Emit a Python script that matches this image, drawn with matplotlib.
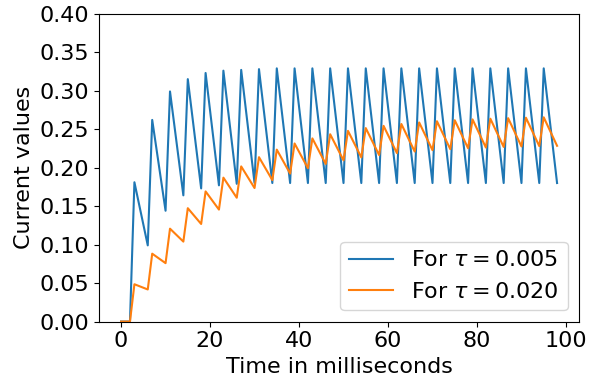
import matplotlib
matplotlib.use("Agg")
import matplotlib.pyplot as plt
import numpy as np

# time points (ms) where the traces change direction
t = [0, 2,
     3, 6, 7, 10, 11, 14, 15, 18, 19, 22, 23, 26, 27, 30,
     31, 34, 35, 38, 39, 42, 43, 46, 47, 50, 51, 54, 55, 58,
     59, 62, 63, 66, 67, 70, 71, 74, 75, 78, 79, 82, 83, 86,
     87, 90, 91, 94, 95, 98]

current_fast = [0, 0,
                0.181, 0.099, 0.262, 0.144, 0.299, 0.164, 0.315, 0.173,
                0.323, 0.177, 0.326, 0.179, 0.327, 0.180, 0.328, 0.180,
                0.329, 0.180, 0.329, 0.180, 0.329, 0.180, 0.329, 0.180,
                0.329, 0.180, 0.329, 0.180, 0.329, 0.180, 0.329, 0.180,
                0.329, 0.180, 0.329, 0.180, 0.329, 0.180, 0.329, 0.180,
                0.329, 0.180, 0.329, 0.180, 0.329, 0.180, 0.329, 0.180]

current_slow = [0, 0,
                0.0485, 0.0417, 0.0882, 0.0759, 0.1207, 0.1039, 0.1473, 0.1268,
                0.1691, 0.1455, 0.1870, 0.1609, 0.2016, 0.1735, 0.2136, 0.1838,
                0.2234, 0.1923, 0.2314, 0.1992, 0.2380, 0.2048, 0.2434, 0.2095,
                0.2478, 0.2133, 0.2514, 0.2164, 0.2543, 0.2189, 0.2567, 0.2209,
                0.2587, 0.2227, 0.2603, 0.2240, 0.2616, 0.2252, 0.2627, 0.2261,
                0.2636, 0.2269, 0.2643, 0.2275, 0.2649, 0.2280, 0.2654, 0.2284]

y_ticks = [0.00, 0.05, 0.10, 0.15, 0.20, 0.25, 0.30, 0.35, 0.40]

plt.rcParams["font.size"] = 16

fig, ax = plt.subplots(figsize=(5.98, 3.81), dpi=100)
fig.subplots_adjust(left=0.166, right=0.968, top=0.964, bottom=0.156)

ax.plot(t, current_fast, label=r"For $\tau = 0.005$")
ax.plot(t, current_slow, label=r"For $\tau = 0.020$")
ax.set_ylim(0, 0.40)
ax.set_yticks(y_ticks)
ax.set_yticklabels([f"{v:.2f}" for v in y_ticks])
ax.set_xlabel("Time in milliseconds")
ax.set_ylabel("Current values")
ax.legend(loc="lower right")

fig.savefig("out.png")
